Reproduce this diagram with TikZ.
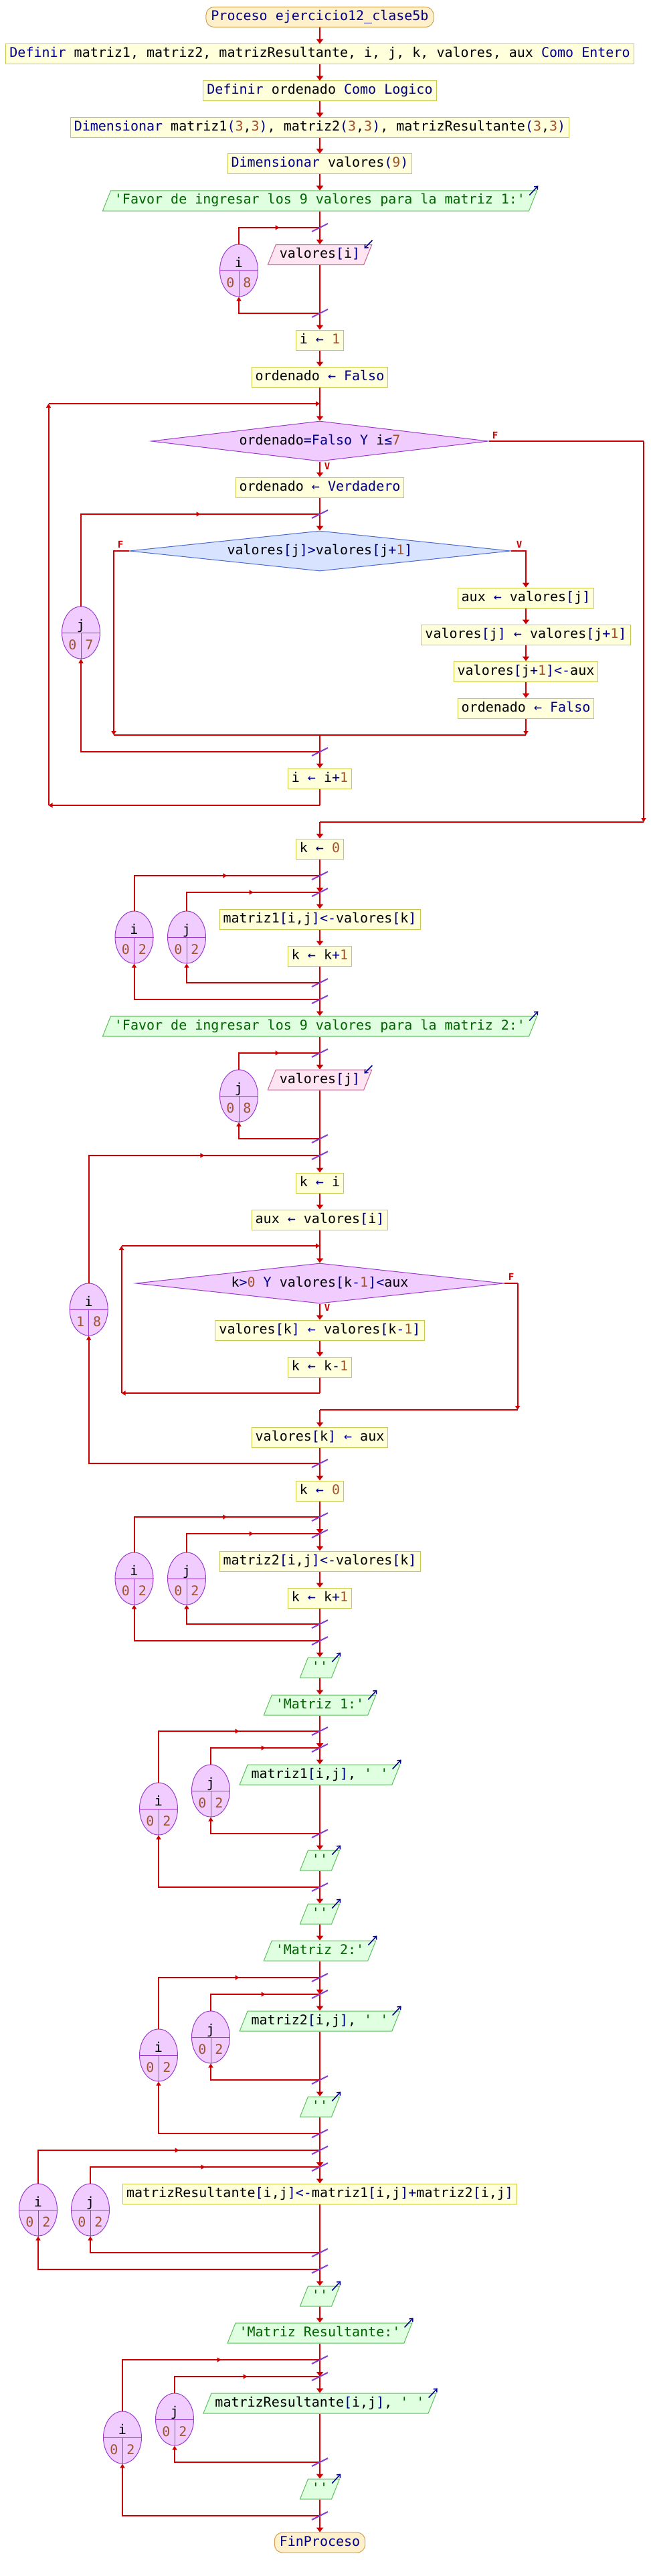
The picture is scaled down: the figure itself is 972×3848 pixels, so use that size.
\documentclass[tikz,border=0pt]{standalone}
\usepackage{fontspec}
\setmonofont{DejaVu Sans Mono}
\usetikzlibrary{arrows.meta,shapes.geometric,decorations.markings}

\definecolor{flowred}{HTML}{CC0000}
\definecolor{kwblue}{HTML}{00008B}
\definecolor{numbrown}{HTML}{A0522D}
\definecolor{strgreen}{HTML}{006400}
\definecolor{assignfill}{HTML}{FFFFDC}
\definecolor{assigndraw}{HTML}{C8C84A}
\definecolor{loopfill}{HTML}{F0CCFF}
\definecolor{loopdraw}{HTML}{9A3ACC}
\definecolor{iffill}{HTML}{D8E4FF}
\definecolor{ifdraw}{HTML}{4A6AD0}
\definecolor{outfill}{HTML}{E0FFE0}
\definecolor{outdraw}{HTML}{5CC05C}
\definecolor{infill}{HTML}{FFE4F2}
\definecolor{indraw}{HTML}{C8649A}
\definecolor{termfill}{HTML}{FFF0CC}
\definecolor{termdraw}{HTML}{D4A050}
\definecolor{slashcol}{HTML}{8A3CD0}

\newcommand{\kwd}[1]{\textcolor{kwblue}{#1}}
\newcommand{\numl}[1]{\textcolor{numbrown}{#1}}
\newcommand{\lit}[1]{\textcolor{strgreen}{#1}}

\begin{document}
\begin{tikzpicture}[
        x=1pt, y=-1pt,
        font=\ttfamily\fontsize{20}{24}\selectfont,
        block/.style={
            draw=assigndraw,
            fill=assignfill,
            line width=1pt,
            inner xsep=5.5pt,
            inner ysep=0pt,
            minimum height=30pt,
            text height=15pt,
            text depth=5pt
        },
        terminal/.style={
            block,
            draw=termdraw,
            fill=termfill,
            rounded corners=12pt,
            inner xsep=7.5pt
        },
        iobox/.style={
            trapezium,
            trapezium left angle=68.2,
            trapezium right angle=111.8,
            line width=1pt,
            inner xsep=5.5pt,
            inner ysep=5pt,
            text height=15pt,
            text depth=5pt
        },
        outbox/.style={iobox, draw=outdraw, fill=outfill},
        inbox/.style={iobox, draw=indraw, fill=infill},
        whilecond/.style={
            diamond,
            draw=loopdraw,
            fill=loopfill,
            line width=1pt,
            inner sep=0pt,
            aspect=8,
            minimum height=60pt,
            text height=15pt,
            text depth=5pt
        },
        ifcond/.style={whilecond, draw=ifdraw, fill=iffill},
        counter/.style={
            ellipse,
            draw=loopdraw,
            fill=loopfill,
            line width=1pt,
            inner sep=0pt,
            minimum width=57pt,
            minimum height=78pt
        },
        countertext/.style={anchor=base, inner sep=0pt},
        branch/.style={anchor=base, inner sep=0pt, text=flowred,
            font=\ttfamily\bfseries\fontsize{14}{16}\selectfont},
        wire/.style={flowred, line width=2pt},
        flow/.style={wire, -{Triangle[width=10pt,length=7pt]}},
        corner/.style={wire, -{Triangle[width=7pt,length=6pt]}},
        midarrow/.style={postaction={decorate}, decoration={markings,
            mark=at position 0.5 with {\arrow{Triangle[width=7pt,length=6pt]}}}},
        slashmark/.style={draw=slashcol, line width=2pt},
        ioarrow/.style={draw=kwblue, line width=1.5pt,
            -{Straight Barb[length=4pt,width=7pt]}}
    ]
        \useasboundingbox (0,0) rectangle (972,3848);

        % Declarations
        \node[terminal] (proc) at (478,25.5)
            {\kwd{Proceso ejercicio12\_clase5b}};
        \node[block] (defvars) at (478,81)
            {\kwd{Definir} matriz1, matriz2, matrizResultante, i, j, k, valores, aux \kwd{Como Entero}};
        \node[block] (deford) at (478,136)
            {\kwd{Definir} ordenado \kwd{Como Logico}};
        \node[block] (dimmat) at (478,191)
            {\kwd{Dimensionar} matriz1\kwd{(}\numl{3},\numl{3}\kwd{)}, matriz2\kwd{(}\numl{3},\numl{3}\kwd{)}, matrizResultante\kwd{(}\numl{3},\numl{3}\kwd{)}};
        \node[block] (dimval) at (478,245)
            {\kwd{Dimensionar} valores\kwd{(}\numl{9}\kwd{)}};

        % Reading and sorting
        \node[outbox] (askA) at (478,300)
            {\lit{'Favor de ingresar los 9 valores para la matriz 1:'}};
        \node[inbox] (readA) at (478,380.5) {valores\kwd{[}i\kwd{]}};
        \node[block] (setI) at (478,508) {i \kwd{←} \numl{1}};
        \node[block] (setOrd) at (478,563) {ordenado \kwd{← Falso}};
        \node[whilecond, minimum width=504pt] (condW) at (478,659)
            {ordenado\kwd{=Falso Y} i\kwd{≤}\numl{7}};
        \node[block] (setTrue) at (478,728) {ordenado \kwd{← Verdadero}};
        \node[ifcond, minimum width=570pt] (condIf) at (478,823)
            {valores\kwd{[}j\kwd{]>}valores\kwd{[}j\kwd{+}\numl{1}\kwd{]}};
        \node[block] (swapA) at (786,893) {aux \kwd{←} valores\kwd{[}j\kwd{]}};
        \node[block] (swapB) at (786,948)
            {valores\kwd{[}j\kwd{]} \kwd{←} valores\kwd{[}j\kwd{+}\numl{1}\kwd{]}};
        \node[block] (swapC) at (786,1003)
            {valores\kwd{[}j\kwd{+}\numl{1}\kwd{]<-}aux};
        \node[block] (swapD) at (786,1058) {ordenado \kwd{← Falso}};
        \node[block] (incI) at (478,1163) {i \kwd{←} i\kwd{+}\numl{1}};
        \node[block] (setK) at (478,1268) {k \kwd{←} \numl{0}};
        \node[block] (fillA) at (478,1373)
            {matriz1\kwd{[}i,j\kwd{]<-}valores\kwd{[}k\kwd{]}};
        \node[block] (incK) at (478,1428) {k \kwd{←} k\kwd{+}\numl{1}};

        \node[outbox] (askB) at (478,1533)
            {\lit{'Favor de ingresar los 9 valores para la matriz 2:'}};
        \node[inbox] (readB) at (478,1613) {valores\kwd{[}j\kwd{]}};
        \node[block] (setKI) at (478,1767) {k \kwd{←} i};
        \node[block] (setAux) at (478,1822) {aux \kwd{←} valores\kwd{[}i\kwd{]}};
        \node[whilecond, minimum width=550pt] (condIns) at (478,1917)
            {k\kwd{>}\numl{0} \kwd{Y} valores\kwd{[}k\kwd{-}\numl{1}\kwd{]<}aux};
        \node[block] (shiftK) at (478,1987)
            {valores\kwd{[}k\kwd{]} \kwd{←} valores\kwd{[}k\kwd{-}\numl{1}\kwd{]}};
        \node[block] (decK) at (478,2042) {k \kwd{←} k\kwd{-}\numl{1}};
        \node[block] (putAux) at (478,2147) {valores\kwd{[}k\kwd{]} \kwd{←} aux};
        \node[block] (setK2) at (478,2227) {k \kwd{←} \numl{0}};
        \node[block] (fillB) at (478,2332)
            {matriz2\kwd{[}i,j\kwd{]<-}valores\kwd{[}k\kwd{]}};
        \node[block] (incK2) at (478,2387) {k \kwd{←} k\kwd{+}\numl{1}};

        % Printing and sum
        \node[outbox] (nlA) at (478,2491) {\lit{''}};
        \node[outbox] (titleA) at (478,2547) {\lit{'Matriz 1:'}};
        \node[outbox] (showA) at (478,2651) {matriz1\kwd{[}i,j\kwd{]}, \lit{' '}};
        \node[outbox] (nlB) at (478,2779) {\lit{''}};
        \node[outbox] (nlC) at (478,2859) {\lit{''}};
        \node[outbox] (titleB) at (478,2914) {\lit{'Matriz 2:'}};
        \node[outbox] (showB) at (478,3019) {matriz2\kwd{[}i,j\kwd{]}, \lit{' '}};
        \node[outbox] (nlD) at (478,3147) {\lit{''}};
        \node[block] (sumAB) at (478,3277)
            {matrizResultante\kwd{[}i,j\kwd{]<-}matriz1\kwd{[}i,j\kwd{]+}matriz2\kwd{[}i,j\kwd{]}};
        \node[outbox] (nlE) at (478,3430) {\lit{''}};
        \node[outbox] (titleR) at (478,3485) {\lit{'Matriz Resultante:'}};
        \node[outbox] (showR) at (478,3590)
            {matrizResultante\kwd{[}i,j\kwd{]}, \lit{' '}};
        \node[outbox] (nlF) at (478,3718) {\lit{''}};
        \node[terminal] (fin) at (478,3798) {\kwd{FinProceso}};

        % Branch labels
        \node[branch] (fW) at (740,655) {F};
        \node[branch] (vW) at (489,701) {V};
        \node[branch] (fIf) at (180,818) {F};
        \node[branch] (vIf) at (776,818) {V};
        \node[branch] (fIns) at (764,1912) {F};
        \node[branch] (vIns) at (489,1958) {V};

        % Bends of the while loops and the if
        \coordinate (wA) at (478,603);
        \coordinate (wAb) at (478,1203);
        \coordinate (wAl) at (72.5,1203);
        \coordinate (wAt) at (72.5,603);
        \coordinate (fA1) at (962,659);
        \coordinate (fA2) at (962,1228);
        \coordinate (eA) at (478,1228);
        \coordinate (fL) at (170,1098);
        \coordinate (fR) at (786,1098);
        \coordinate (mA) at (478,1098);
        \coordinate (wB) at (478,1861);
        \coordinate (wBb) at (478,2081);
        \coordinate (wBl) at (181.6,2081);
        \coordinate (wBt) at (181.6,1861);
        \coordinate (fB1) at (773.6,1917);
        \coordinate (fB2) at (773.6,2106);
        \coordinate (eB) at (478,2106);

        % For loops: counter, top and bottom of each loop
        \foreach \id/\x/\y/\var/\lo/\hi/\ya/\yb in {A/357/404/i/0/8/340/468,
                B/121/945/j/0/7/768/1123,
                C/200.5/1400/i/0/2/1308/1493,
                D/279/1400/j/0/2/1333/1468,
                E/357/1637/j/0/8/1573/1701,
                F/132.7/1956/i/1/8/1726/2186,
                G/200.5/2358/i/0/2/2266/2451,
                H/279/2358/j/0/2/2291/2426,
                I/237/2702/i/0/2/2586/2819,
                J/315/2675/j/0/2/2611/2739,
                K/237/3070/i/0/2/2954/3187,
                L/315/3043/j/0/2/2979/3107,
                M/57/3301/i/0/2/3212/3389.5,
                N/135/3301/j/0/2/3237/3365,
                O/183/3641/i/0/2/3525/3758,
                P/261/3614/j/0/2/3550/3678} {
            \coordinate (t\id) at (478,\ya);
            \coordinate (b\id) at (478,\yb);
            \node[counter] (c\id) at (\x,\y) {};
            \draw[loopdraw, line width=1pt] (c\id.west) -- (c\id.east)
                (c\id.center) -- (c\id.south);
            \node[countertext] (v\id) at (\x,\y-5) {\var};
            \node[countertext, text=numbrown] (lo\id) at (\x-12.5,\y+25) {\lo};
            \node[countertext, text=numbrown] (hi\id) at (\x+12.5,\y+25) {\hi};
            \draw[wire] (c\id.north) |- (t\id);
            \draw[wire, midarrow] (c\id.north |- t\id) -- (t\id);
            \draw[corner] (b\id) -| (c\id.south);
        }

        % Main flow
        \draw[flow] (proc) -- (defvars);
        \draw[flow] (defvars) -- (deford);
        \draw[flow] (deford) -- (dimmat);
        \draw[flow] (dimmat) -- (dimval);
        \draw[flow] (dimval) -- (askA);
        \draw[wire] (askA) -- (tA);
        \draw[flow] (tA) -- (readA);
        \draw[wire] (readA) -- (bA);
        \draw[flow] (bA) -- (setI);
        \draw[flow] (setI) -- (setOrd);
        \draw[wire] (setOrd) -- (wA);
        \draw[flow] (wA) -- (condW);
        \draw[flow] (condW) -- (setTrue);
        \draw[wire] (setTrue) -- (tB);
        \draw[flow] (tB) -- (condIf);
        \draw[corner] (condIf.west) -| (fL);
        \draw[flow] (condIf.east) -| (swapA.north);
        \draw[flow] (swapA) -- (swapB);
        \draw[flow] (swapB) -- (swapC);
        \draw[flow] (swapC) -- (swapD);
        \draw[corner] (swapD) -- (fR);
        \draw[wire] (fL) -- (fR);
        \draw[wire] (mA) -- (bB);
        \draw[flow] (bB) -- (incI);
        \draw[wire] (incI) -- (wAb);
        \draw[corner] (wAb) -- (wAl);
        \draw[corner] (wAl) -- (wAt);
        \draw[corner] (wAt) -- (wA);
        \draw[wire] (condW.east) -- (fA1);
        \draw[corner] (fA1) -- (fA2);
        \draw[wire] (fA2) -- (eA);
        \draw[flow] (eA) -- (setK);
        \draw[wire] (setK) -- (tC);
        \draw[flow] (tC) -- (tD);
        \draw[flow] (tD) -- (fillA);
        \draw[flow] (fillA) -- (incK);
        \draw[wire] (incK) -- (bC);
        \draw[flow] (bC) -- (askB);
        \draw[wire] (askB) -- (tE);
        \draw[flow] (tE) -- (readB);
        \draw[wire] (readB) -- (tF);
        \draw[flow] (tF) -- (setKI);
        \draw[flow] (setKI) -- (setAux);
        \draw[wire] (setAux) -- (wB);
        \draw[flow] (wB) -- (condIns);
        \draw[flow] (condIns) -- (shiftK);
        \draw[flow] (shiftK) -- (decK);
        \draw[wire] (decK) -- (wBb);
        \draw[corner] (wBb) -- (wBl);
        \draw[corner] (wBl) -- (wBt);
        \draw[corner] (wBt) -- (wB);
        \draw[wire] (condIns.east) -- (fB1);
        \draw[corner] (fB1) -- (fB2);
        \draw[wire] (fB2) -- (eB);
        \draw[flow] (eB) -- (putAux);
        \draw[wire] (putAux) -- (bF);
        \draw[flow] (bF) -- (setK2);
        \draw[wire] (setK2) -- (tG);
        \draw[flow] (tG) -- (tH);
        \draw[flow] (tH) -- (fillB);
        \draw[flow] (fillB) -- (incK2);
        \draw[wire] (incK2) -- (bG);
        \draw[flow] (bG) -- (nlA);
        \draw[flow] (nlA) -- (titleA);
        \draw[wire] (titleA) -- (tI);
        \draw[flow] (tI) -- (tJ);
        \draw[flow] (tJ) -- (showA);
        \draw[wire] (showA) -- (bJ);
        \draw[flow] (bJ) -- (nlB);
        \draw[wire] (nlB) -- (bI);
        \draw[flow] (bI) -- (nlC);
        \draw[flow] (nlC) -- (titleB);
        \draw[wire] (titleB) -- (tK);
        \draw[flow] (tK) -- (tL);
        \draw[flow] (tL) -- (showB);
        \draw[wire] (showB) -- (bL);
        \draw[flow] (bL) -- (nlD);
        \draw[wire] (nlD) -- (tM);
        \draw[flow] (tM) -- (tN);
        \draw[flow] (tN) -- (sumAB);
        \draw[wire] (sumAB) -- (bM);
        \draw[flow] (bM) -- (nlE);
        \draw[flow] (nlE) -- (titleR);
        \draw[wire] (titleR) -- (tO);
        \draw[flow] (tO) -- (tP);
        \draw[flow] (tP) -- (showR);
        \draw[wire] (showR) -- (bP);
        \draw[flow] (bP) -- (nlF);
        \draw[wire] (nlF) -- (bO);
        \draw[flow] (bO) -- (fin);

        % Input/output markers
        \foreach \n in {askA,askB,nlA,titleA,showA,nlB,nlC,titleB,showB,nlD,nlE,titleR,showR,nlF}
            \draw[ioarrow] ([shift={(-12,7)}]\n.top right corner)
                -- ([shift={(1,-7)}]\n.top right corner);
        \foreach \n in {readA,readB}
            \draw[ioarrow] ([shift={(0,-6)}]\n.top right corner)
                -- ([shift={(-12,6)}]\n.top right corner);

        % Loop junction slashes
        \foreach \s in {A,B,C,D,E,F,G,H,I,J,K,L,M,N,O,P} {
            \draw[slashmark] (t\s) +(-12,6) -- +(12,-6);
            \draw[slashmark] (b\s) +(-12,6) -- +(12,-6);
        }
    \end{tikzpicture}
\end{document}
